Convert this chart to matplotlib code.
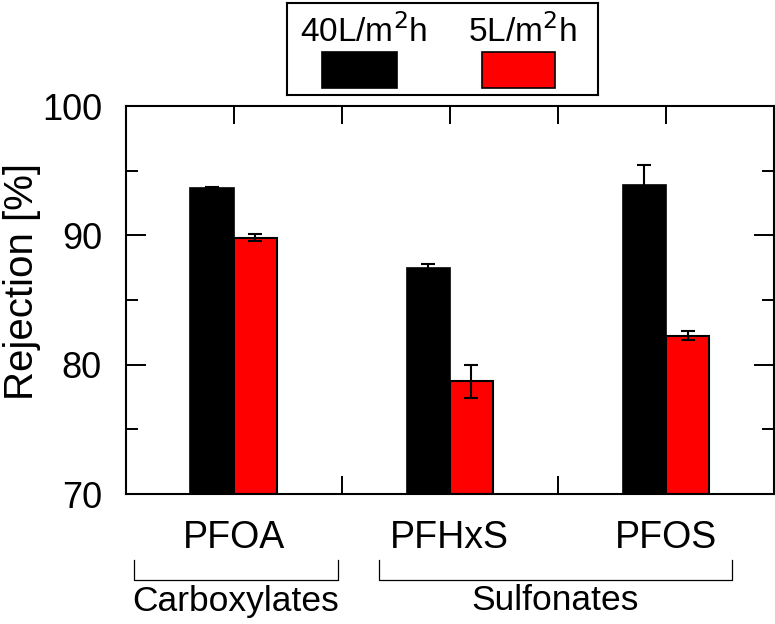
import matplotlib
matplotlib.use("Agg")
import matplotlib.pyplot as plt
from matplotlib.patches import Rectangle
from matplotlib.lines import Line2D
import numpy as np

plt.rcParams['font.family'] = ['Liberation Sans', 'DejaVu Sans']

categories = ["PFOA", "PFHxS", "PFOS"]
series_names = ["40L/m$^2$h", "5L/m$^2$h"]
rej_40 = [93.65, 87.5, 93.9]
err_40 = [0.05, 0.3, 1.57]
rej_5 = [89.8, 78.7, 82.25]
err_5 = [0.27, 1.25, 0.35]
groups = ["Carboxylates", "Sulfonates"]
yticks = [70, 80, 90, 100]

W, H = 775, 624
fig = plt.figure(figsize=(W / 100, H / 100), dpi=100)

def fx(px):
    return px / W

def fy(py):
    return 1 - py / H

ax = fig.add_axes([fx(125.5), fy(494), fx(774) - fx(125.5), fy(106) - fy(494)])

x = np.arange(len(categories))
bw = 0.2
ax.bar(x - bw / 2, [v - 70 for v in rej_40], bw, bottom=70, color="black",
       edgecolor="black", linewidth=1.2, zorder=2)
ax.bar(x + bw / 2, [v - 70 for v in rej_5], bw, bottom=70, color="#ff0000",
       edgecolor="black", linewidth=1.5, zorder=2)
ax.errorbar(x - bw / 2, rej_40, yerr=err_40, fmt="none", ecolor="black",
            elinewidth=1.5, capsize=5, capthick=1.5, zorder=3)
ax.errorbar(x + bw / 2, rej_5, yerr=err_5, fmt="none", ecolor="black",
            elinewidth=1.5, capsize=5, capthick=1.5, zorder=3)

ax.set_xlim(-0.5, 2.5)
ax.set_ylim(70, 100)
ax.set_yticks(yticks)
ax.set_yticks([75, 85, 95], minor=True)
ax.set_xticks([0, 0.5, 1, 1.5, 2])
ax.set_xticklabels(["PFOA", "", "PFHxS", "", "PFOS"])
ax.tick_params(axis="y", which="major", direction="in", length=14.5, width=1.4,
               labelsize=26, pad=17, left=True, right=True)
ax.tick_params(axis="y", which="minor", direction="in", length=8.6, width=1.4,
               left=True, right=True)
ax.tick_params(axis="x", which="major", direction="in", length=13, width=1.4,
               labelsize=27, pad=19, top=True, bottom=True)
for s in ax.spines.values():
    s.set_linewidth(1.5)

fig.text(fx(22), fy(281), "Rejection [%]", rotation=90, ha="center", va="center",
         fontsize=29)

# group brackets
def bracket(x0, x1, y0, y1):
    fig.add_artist(Line2D([fx(x0), fx(x0), fx(x1), fx(x1)],
                          [fy(y0), fy(y1), fy(y1), fy(y0)],
                          color="black", linewidth=0.9))

bracket(134, 338, 560, 580)
bracket(379, 732, 560, 580)
fig.text(fx(236), fy(601), groups[0], ha="center", va="center", fontsize=25.5)
fig.text(fx(555), fy(601), groups[1], ha="center", va="center", fontsize=25.5)

# legend box
lx0, ly0, lx1, ly1 = 287, 3, 598, 95
lax = fig.add_axes([fx(lx0), fy(ly1), fx(lx1) - fx(lx0), fy(ly0) - fy(ly1)])
lax.set_xlim(lx0, lx1)
lax.set_ylim(ly1, ly0)
lax.set_xticks([])
lax.set_yticks([])
for s in lax.spines.values():
    s.set_linewidth(1.5)
colors = ["black", "#ff0000"]
patch_x = [(322, 397), (482, 555)]
for name, c, (a, b) in zip(series_names, colors, patch_x):
    lax.add_patch(Rectangle((a, 52), b - a, 36, facecolor=c, edgecolor="black",
                            linewidth=1.2))
    lax.text((a + b) / 2 + 4, 32, name, ha="center", va="center", fontsize=24)

fig.savefig("out.png", dpi=100)
